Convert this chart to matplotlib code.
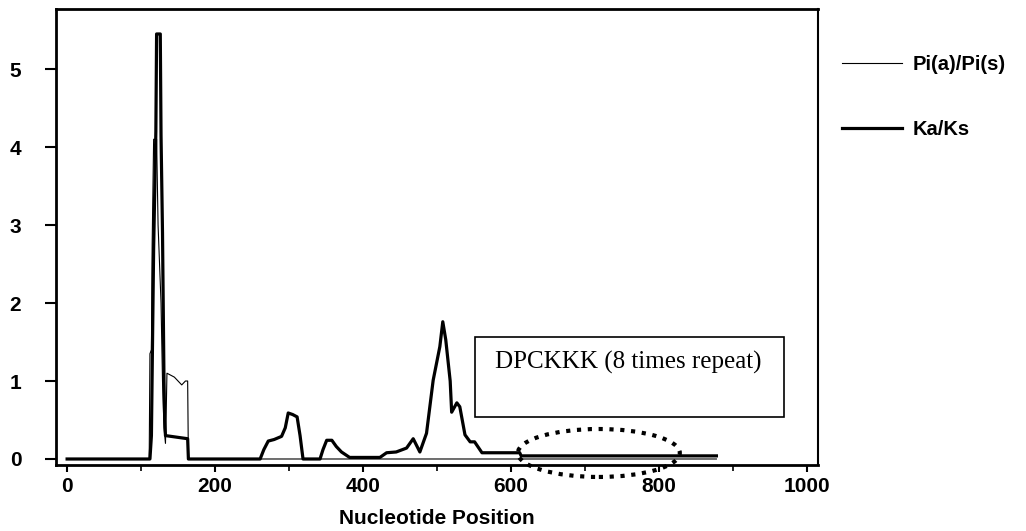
import matplotlib
matplotlib.use('Agg')
import matplotlib.pyplot as plt
from matplotlib.patches import Ellipse, Rectangle
from matplotlib.ticker import MultipleLocator

# Ka/Ks (thick line)
ka_pos = [0, 112, 114, 117, 120, 121, 126, 127, 129, 131, 132, 133, 148, 163, 164,
          261, 266, 272, 280, 290, 295, 299, 305, 311, 315, 319,
          342, 346, 351, 358, 364, 371, 382, 423, 432, 445, 459, 468, 477,
          486, 495, 504, 508, 512, 518, 520, 527, 531, 538, 545, 551, 561,
          612, 614, 878]
ka_val = [0, 0, 0.3, 2.7, 4.2, 5.45, 5.45, 4.15, 2.9, 1.0, 0.5, 0.3, 0.28, 0.26, 0,
          0, 0.12, 0.23, 0.25, 0.29, 0.4, 0.59, 0.57, 0.54, 0.3, 0,
          0, 0.12, 0.24, 0.24, 0.16, 0.09, 0.02, 0.02, 0.08, 0.09, 0.14, 0.26, 0.09,
          0.33, 1.01, 1.44, 1.76, 1.53, 1.0, 0.6, 0.72, 0.67, 0.31, 0.22, 0.22, 0.08,
          0.08, 0.04, 0.04]

# Pi(a)/Pi(s) (thin line)
pi_pos = [0, 111, 112, 114, 115, 117, 121, 123, 127, 129, 131, 133, 134, 135,
          145, 155, 160, 163, 164, 878]
pi_val = [0, 0, 1.35, 1.4, 2.75, 4.1, 4.1, 3.0, 2.0, 1.0, 0.4, 0.2, 0.6, 1.1,
          1.05, 0.95, 1.0, 1.0, 0, 0]

x_ticks = [0, 200, 400, 600, 800, 1000]
y_ticks = [0, 1, 2, 3, 4, 5]

fig = plt.figure(figsize=(10.26, 5.31), dpi=100)
ax = fig.add_axes([0.0546, 0.1243, 0.7424, 0.8587])

ax.plot(pi_pos, pi_val, color='black', lw=0.8, label='Pi(a)/Pi(s)')
ax.plot(ka_pos, ka_val, color='black', lw=2.3, label='Ka/Ks')

ax.set_xlim(-15, 1015)
ax.set_ylim(-0.077, 5.77)
ax.set_xticks(x_ticks)
ax.set_yticks(y_ticks)
ax.xaxis.set_minor_locator(MultipleLocator(100))

tick_font = dict(family='Liberation Sans', weight='bold', size=15)
ax.set_xticklabels([str(t) for t in x_ticks], fontdict=tick_font)
ax.set_yticklabels([str(t) for t in y_ticks], fontdict=tick_font)
ax.tick_params(axis='x', which='major', length=5, width=1.5, pad=4)
ax.tick_params(axis='x', which='minor', length=4, width=1.2)
ax.tick_params(axis='y', length=8, width=1.5, pad=17)

for s in ['left', 'bottom', 'top']:
    ax.spines[s].set_linewidth(2)
ax.spines['right'].set_linewidth(1.5)

ax.set_xlabel('Nucleotide Position', family='Liberation Sans', weight='bold',
              size=15, labelpad=9)

# annotation box
ax.add_patch(Rectangle((551, 0.54), 419, 1.02, fill=False, ec='black', lw=1.2))
ax.text(578, 1.24, 'DPCKKK (8 times repeat)', family='Liberation Serif',
        size=18, va='center', ha='left')

# dotted ellipse around the repeat region
ax.add_patch(Ellipse((719, 0.077), 219, 0.615, fill=False, ec='black',
                     lw=3, linestyle=(0, (1, 1.6)), clip_on=False))

fig.legend(loc='upper left', bbox_to_anchor=(0.8207, 0.897), frameon=False,
           borderpad=0, borderaxespad=0, handlelength=3.0, handletextpad=0.5,
           labelspacing=2.3, prop={'family': 'Liberation Sans', 'weight': 'bold',
                                   'size': 14.5})

fig.savefig('out.png', dpi=100)
